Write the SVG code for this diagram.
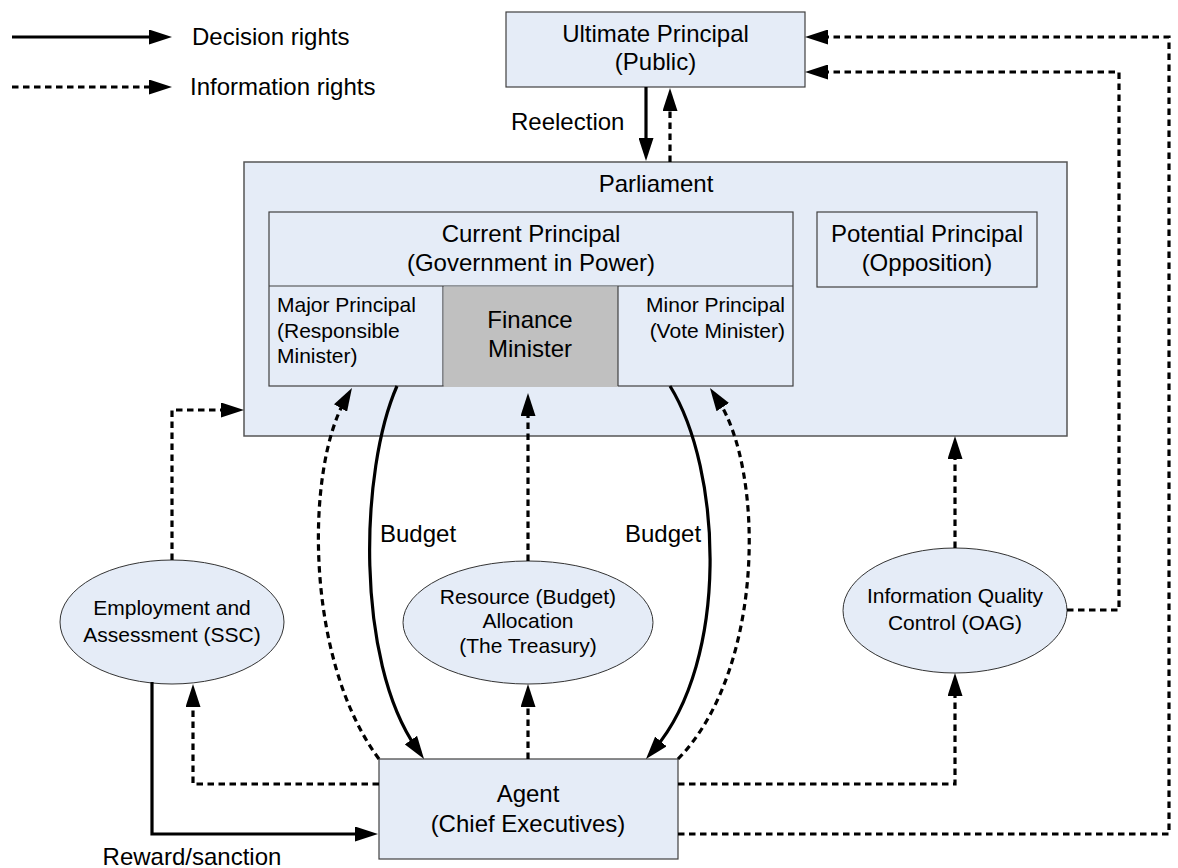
<svg xmlns="http://www.w3.org/2000/svg" width="1178" height="868" viewBox="0 0 1178 868">
<defs>
<style>
text{font-family:"Liberation Sans",Arial,sans-serif;fill:#000}
.big{font-size:24px}
.small{font-size:21px}
.c{text-anchor:middle}
.e{text-anchor:end}
.box{fill:#E5ECF7;stroke:#404040;stroke-width:1.2}
.ell{fill:#E5ECF7;stroke:#333;stroke-width:1}
.solid{fill:none;stroke:#000;stroke-width:3.2;marker-end:url(#ah)}
.dash{fill:none;stroke:#000;stroke-width:3.2;stroke-dasharray:6.5 4.5;marker-end:url(#ah)}
.dashn{fill:none;stroke:#000;stroke-width:3.2;stroke-dasharray:6.5 4.5}
</style>
<marker id="ah" viewBox="0 0 23 15" markerWidth="23" markerHeight="15" markerUnits="userSpaceOnUse" refX="10" refY="7.5" orient="auto">
<path d="M0,0 L23,7.5 L0,15 z" fill="#000"/>
</marker>
</defs>
<rect width="1178" height="868" fill="#fff"/>

<g id="legend">
<path class="solid" d="M12,37 L159,37"/>
<text class="big" x="192" y="45">Decision rights</text>
<path class="dash" d="M12,87 L159,87"/>
<text class="big" x="190" y="95">Information rights</text>
</g>

<g id="ultimate">
<rect class="box" x="506" y="12" width="299" height="75"/>
<text class="big c" x="655.5" y="42">Ultimate Principal</text>
<text class="big c" x="655.5" y="70">(Public)</text>
</g>

<g id="parliament">
<rect class="box" x="244" y="162" width="823" height="274" style="stroke:#555;stroke-width:1.5"/>
<text class="big c" x="656" y="192">Parliament</text>
</g>

<g id="current">
<rect class="box" x="269" y="212" width="524" height="174"/>
<line x1="269" y1="286" x2="793" y2="286" stroke="#404040" stroke-width="1.2"/>
<text class="big c" x="531" y="242">Current Principal</text>
<text class="big c" x="531" y="271">(Government in Power)</text>
</g>

<g id="major">
<line x1="443" y1="286" x2="443" y2="386" stroke="#404040" stroke-width="1.2"/>
<text class="small" x="277" y="312">Major Principal</text>
<text class="small" x="277" y="338">(Responsible</text>
<text class="small" x="277" y="363">Minister)</text>
</g>

<g id="finance">
<rect x="443.6" y="286.6" width="174.4" height="100.4" fill="#C0C0C0"/>
<text class="big c" x="530" y="328">Finance</text>
<text class="big c" x="530" y="357">Minister</text>
</g>

<g id="minor">
<line x1="618" y1="286" x2="618" y2="386" stroke="#404040" stroke-width="1.2"/>
<text class="small e" x="785" y="312">Minor Principal</text>
<text class="small e" x="785" y="338">(Vote Minister)</text>
</g>

<g id="potential">
<rect class="box" x="817" y="212" width="220" height="75"/>
<text class="big c" x="927" y="242">Potential Principal</text>
<text class="big c" x="927" y="271">(Opposition)</text>
</g>

<g id="ssc">
<ellipse class="ell" cx="172" cy="622" rx="112" ry="62"/>
<text class="small c" x="172" y="615">Employment and</text>
<text class="small c" x="172" y="642">Assessment (SSC)</text>
</g>

<g id="treasury">
<ellipse class="ell" cx="528" cy="622.5" rx="125" ry="61.5"/>
<text class="small c" x="528" y="604">Resource (Budget)</text>
<text class="small c" x="528" y="628">Allocation</text>
<text class="small c" x="528" y="653">(The Treasury)</text>
</g>

<g id="oag">
<ellipse class="ell" cx="955" cy="610.5" rx="112" ry="62.5"/>
<text class="small c" x="955" y="603">Information Quality</text>
<text class="small c" x="955" y="630">Control (OAG)</text>
</g>

<g id="agent">
<rect class="box" x="379" y="759" width="299" height="100"/>
<text class="big c" x="528" y="802">Agent</text>
<text class="big c" x="528" y="832">(Chief Executives)</text>
</g>

<g id="connectors">
<path class="solid" d="M646,87 L646,148"/>
<path class="dash" d="M670,162 L670,101"/>
<path class="dash" d="M1067,610 L1119,610 L1119,72 L818,72"/>
<path class="dash" d="M678,834 L1169,834 L1169,37 L818,37"/>
<path class="dash" d="M955,548 L955,449"/>
<path class="dash" d="M678,784 L955,784 L955,686"/>
<path class="dash" d="M528,759 L528,697"/>
<path class="dash" d="M528,561 L528,406"/>
<path class="dash" d="M379,784 L193,784 L193,697"/>
<path class="dash" d="M172,560 L172,410 L231,410"/>
<path class="solid" d="M152,682 L152,834 L365,834"/>
<path class="dash" d="M379,759 C305,660 305,470 345.5,399.3"/>
<path class="solid" d="M397,386 C360,470 355,660 416.6,748.3"/>
<path class="solid" d="M670,386 C722,470 730,660 654.4,749.1"/>
<path class="dash" d="M678,759 C765,670 765,470 717.2,398.8"/>
<text class="big" x="511" y="130">Reelection</text>
<text class="big" x="380" y="542">Budget</text>
<text class="big" x="625" y="542">Budget</text>
<text class="big c" x="192" y="865">Reward/sanction</text>
</g>
</svg>
